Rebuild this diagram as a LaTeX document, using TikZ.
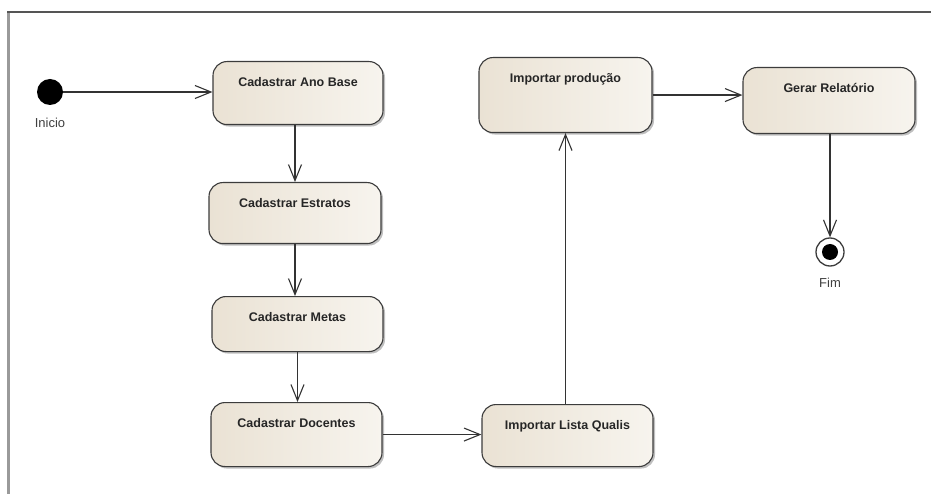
\documentclass[tikz,border=0pt]{standalone}
\usepackage{fontspec}
\setmainfont{Liberation Sans}
\usetikzlibrary{arrows.meta,shadows,calc}
\definecolor{boxline}{HTML}{3C3C3C}
\definecolor{boxleft}{HTML}{EAE2D4}
\definecolor{boxright}{HTML}{F7F4EE}
\definecolor{arrcol}{HTML}{333333}
\definecolor{framecol}{HTML}{555555}
\definecolor{framecolb}{HTML}{9A9A9A}
\begin{document}
\begin{tikzpicture}[x=1pt,y=-1pt,
  actbox/.style={draw=boxline, line width=1.1pt, rounded corners=14pt,
    left color=boxleft, right color=boxright, inner sep=0pt, anchor=north,
    font=\fontsize{12.5}{15}\selectfont\bfseries, text=black!85,
    text height=24.5pt,
    drop shadow={shadow xshift=2pt, shadow yshift=-2pt, fill=black, opacity=0.25}},
  arr/.style={draw=arrcol, line width=1.1pt,
    -{Straight Barb[length=16pt,width=13pt,line width=1.1pt]}},
  lbl/.style={font=\fontsize{13}{15}\selectfont, text=black!75, inner sep=0pt}
]
\useasboundingbox (0,0) rectangle (931,494);
\fill[white] (0,0) rectangle (931,494);
% frame
\draw[framecolb, line width=2.5pt] (8.5,12) -- (8.5,494);
\draw[framecol, line width=1.5pt] (7,12) -- (931,12);

% nodes
\node[circle, fill=black, minimum size=26pt, inner sep=0pt] (start) at (50,92) {};
\node[lbl] (startlbl) at (50,123) {Inicio};

\node[actbox, minimum width=170pt, text depth=38.5pt] (ab) at (298,61) {Cadastrar Ano Base};
\node[actbox, minimum width=172pt, text depth=36.5pt] (es) at (295,182) {Cadastrar Estratos};
\node[actbox, minimum width=171pt, text depth=30.5pt] (me) at (297.5,296) {Cadastrar Metas};
\node[actbox, minimum width=171pt, text depth=39.5pt] (do) at (296.5,402) {Cadastrar Docentes};
\node[actbox, minimum width=171pt, text depth=37.5pt] (ql) at (567.5,404) {Importar Lista Qualis};
\node[actbox, minimum width=173pt, text depth=50.5pt] (ip) at (565.5,57) {Importar produção};
\node[actbox, minimum width=172pt, text depth=41.5pt] (gr) at (829,67) {Gerar Relatório};

\node[circle, draw=boxline, line width=1.3pt, fill=white, minimum size=28pt, inner sep=0pt,
  path picture={\fill[black] (path picture bounding box.center) circle (8pt);}] (fim) at (830,252) {};
\node[lbl] (fimlbl) at (830,283) {Fim};

% connectors
\draw[arr] (start) -- (start -| ab.west);
\draw[arr] (ab.south -| es.north) -- (es.north);
\draw[arr] (es.south) -- (es.south |- me.north);
\draw[arr] (me.south) -- (me.south |- do.north);
\draw[arr] (do.east) -- (do.east -| ql.west);
\draw[arr] (ql.north -| ip.south) -- (ip.south);
\draw[arr] (ip.east) -- (ip.east -| gr.west);
\draw[arr] (gr.south -| fim.north) -- (fim.north);
\end{tikzpicture}
\end{document}
